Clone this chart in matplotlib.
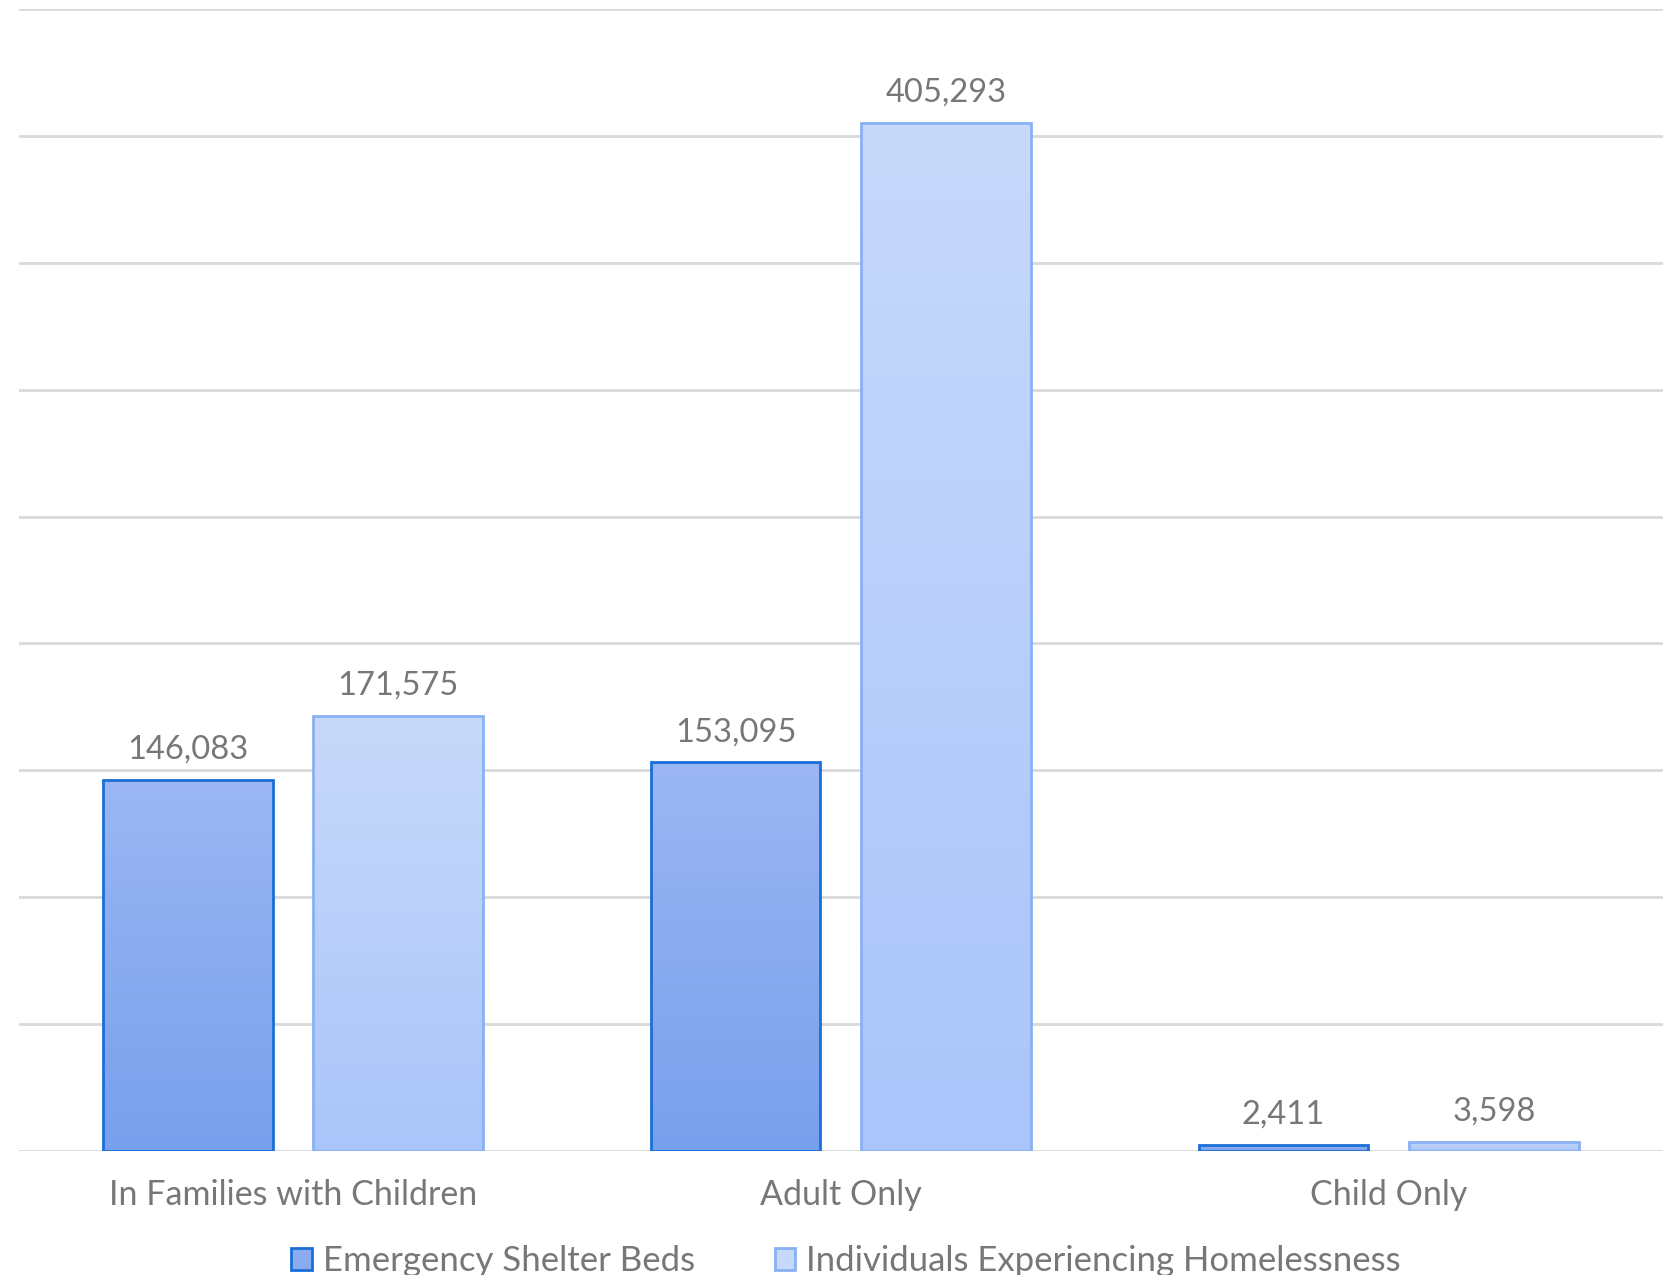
import numpy as np
import matplotlib.pyplot as plt
from matplotlib.colors import LinearSegmentedColormap
from matplotlib.patches import Patch

categories = ["In Families with Children", "Adult Only", "Child Only"]
shelter_beds = [146083, 153095, 2411]
homeless = [171575, 405293, 3598]
series_names = ["Emergency Shelter Beds", "Individuals Experiencing Homelessness"]

plt.rcParams["font.family"] = ["Lato", "DejaVu Sans"]

# (top colour, bottom colour, edge colour) per series
styles = [
    ("#9bb6f3", "#78a0ec", "#1a6fd6"),
    ("#c7d9fa", "#aac5fa", "#8ab0f4"),
]

fig = plt.figure(figsize=(16.75, 12.75), dpi=100)
ax = fig.add_axes([0.0113, 0.0975, 0.9813, 0.8952])

x = np.arange(len(categories))
width = 0.31
offset = 0.192
grad = np.linspace(0, 1, 256).reshape(-1, 1)

for i, vals in enumerate([shelter_beds, homeless]):
    top, bottom, edge = styles[i]
    cmap = LinearSegmentedColormap.from_list("g%d" % i, [top, bottom])
    pos = x + (-offset if i == 0 else offset)
    bars = ax.bar(pos, vals, width, facecolor="none", edgecolor=edge,
                  linewidth=2, zorder=3)
    for b, v in zip(bars, vals):
        im = ax.imshow(grad, cmap=cmap, aspect="auto", zorder=2,
                       extent=(b.get_x(), b.get_x() + b.get_width(), 0, v),
                       origin="upper")
        im.set_clip_path(b)
        ax.annotate(f"{v:,}", (b.get_x() + b.get_width() / 2, v),
                    xytext=(0, 11), textcoords="offset points",
                    ha="center", va="bottom", fontsize=23.5, color="#777777")

ax.set_xlim(-0.5, 2.5)
ax.set_ylim(0, 450000)
ax.set_yticks(np.arange(0, 450001, 50000))
ax.yaxis.grid(True, color="#d9d9d9", linewidth=2)
ax.set_axisbelow(True)
ax.tick_params(axis="y", left=False, labelleft=False)
ax.tick_params(axis="x", bottom=False, labelsize=24.5, labelcolor="#777777", pad=17)
ax.set_xticks(x)
ax.set_xticklabels(categories)
for s in ax.spines.values():
    s.set_visible(False)

handles = [Patch(facecolor=(styles[i][0] if i else "#8aabef"), edgecolor=styles[i][2],
                 linewidth=2) for i in range(2)]
fig.legend(handles, series_names, loc="lower center", ncol=2, frameon=False,
           fontsize=25, labelcolor="#777777", bbox_to_anchor=(0.505, -0.026),
           handlelength=0.6, handleheight=0.6, handletextpad=0.3, columnspacing=2.3)

fig.savefig("out.png", dpi=100)
